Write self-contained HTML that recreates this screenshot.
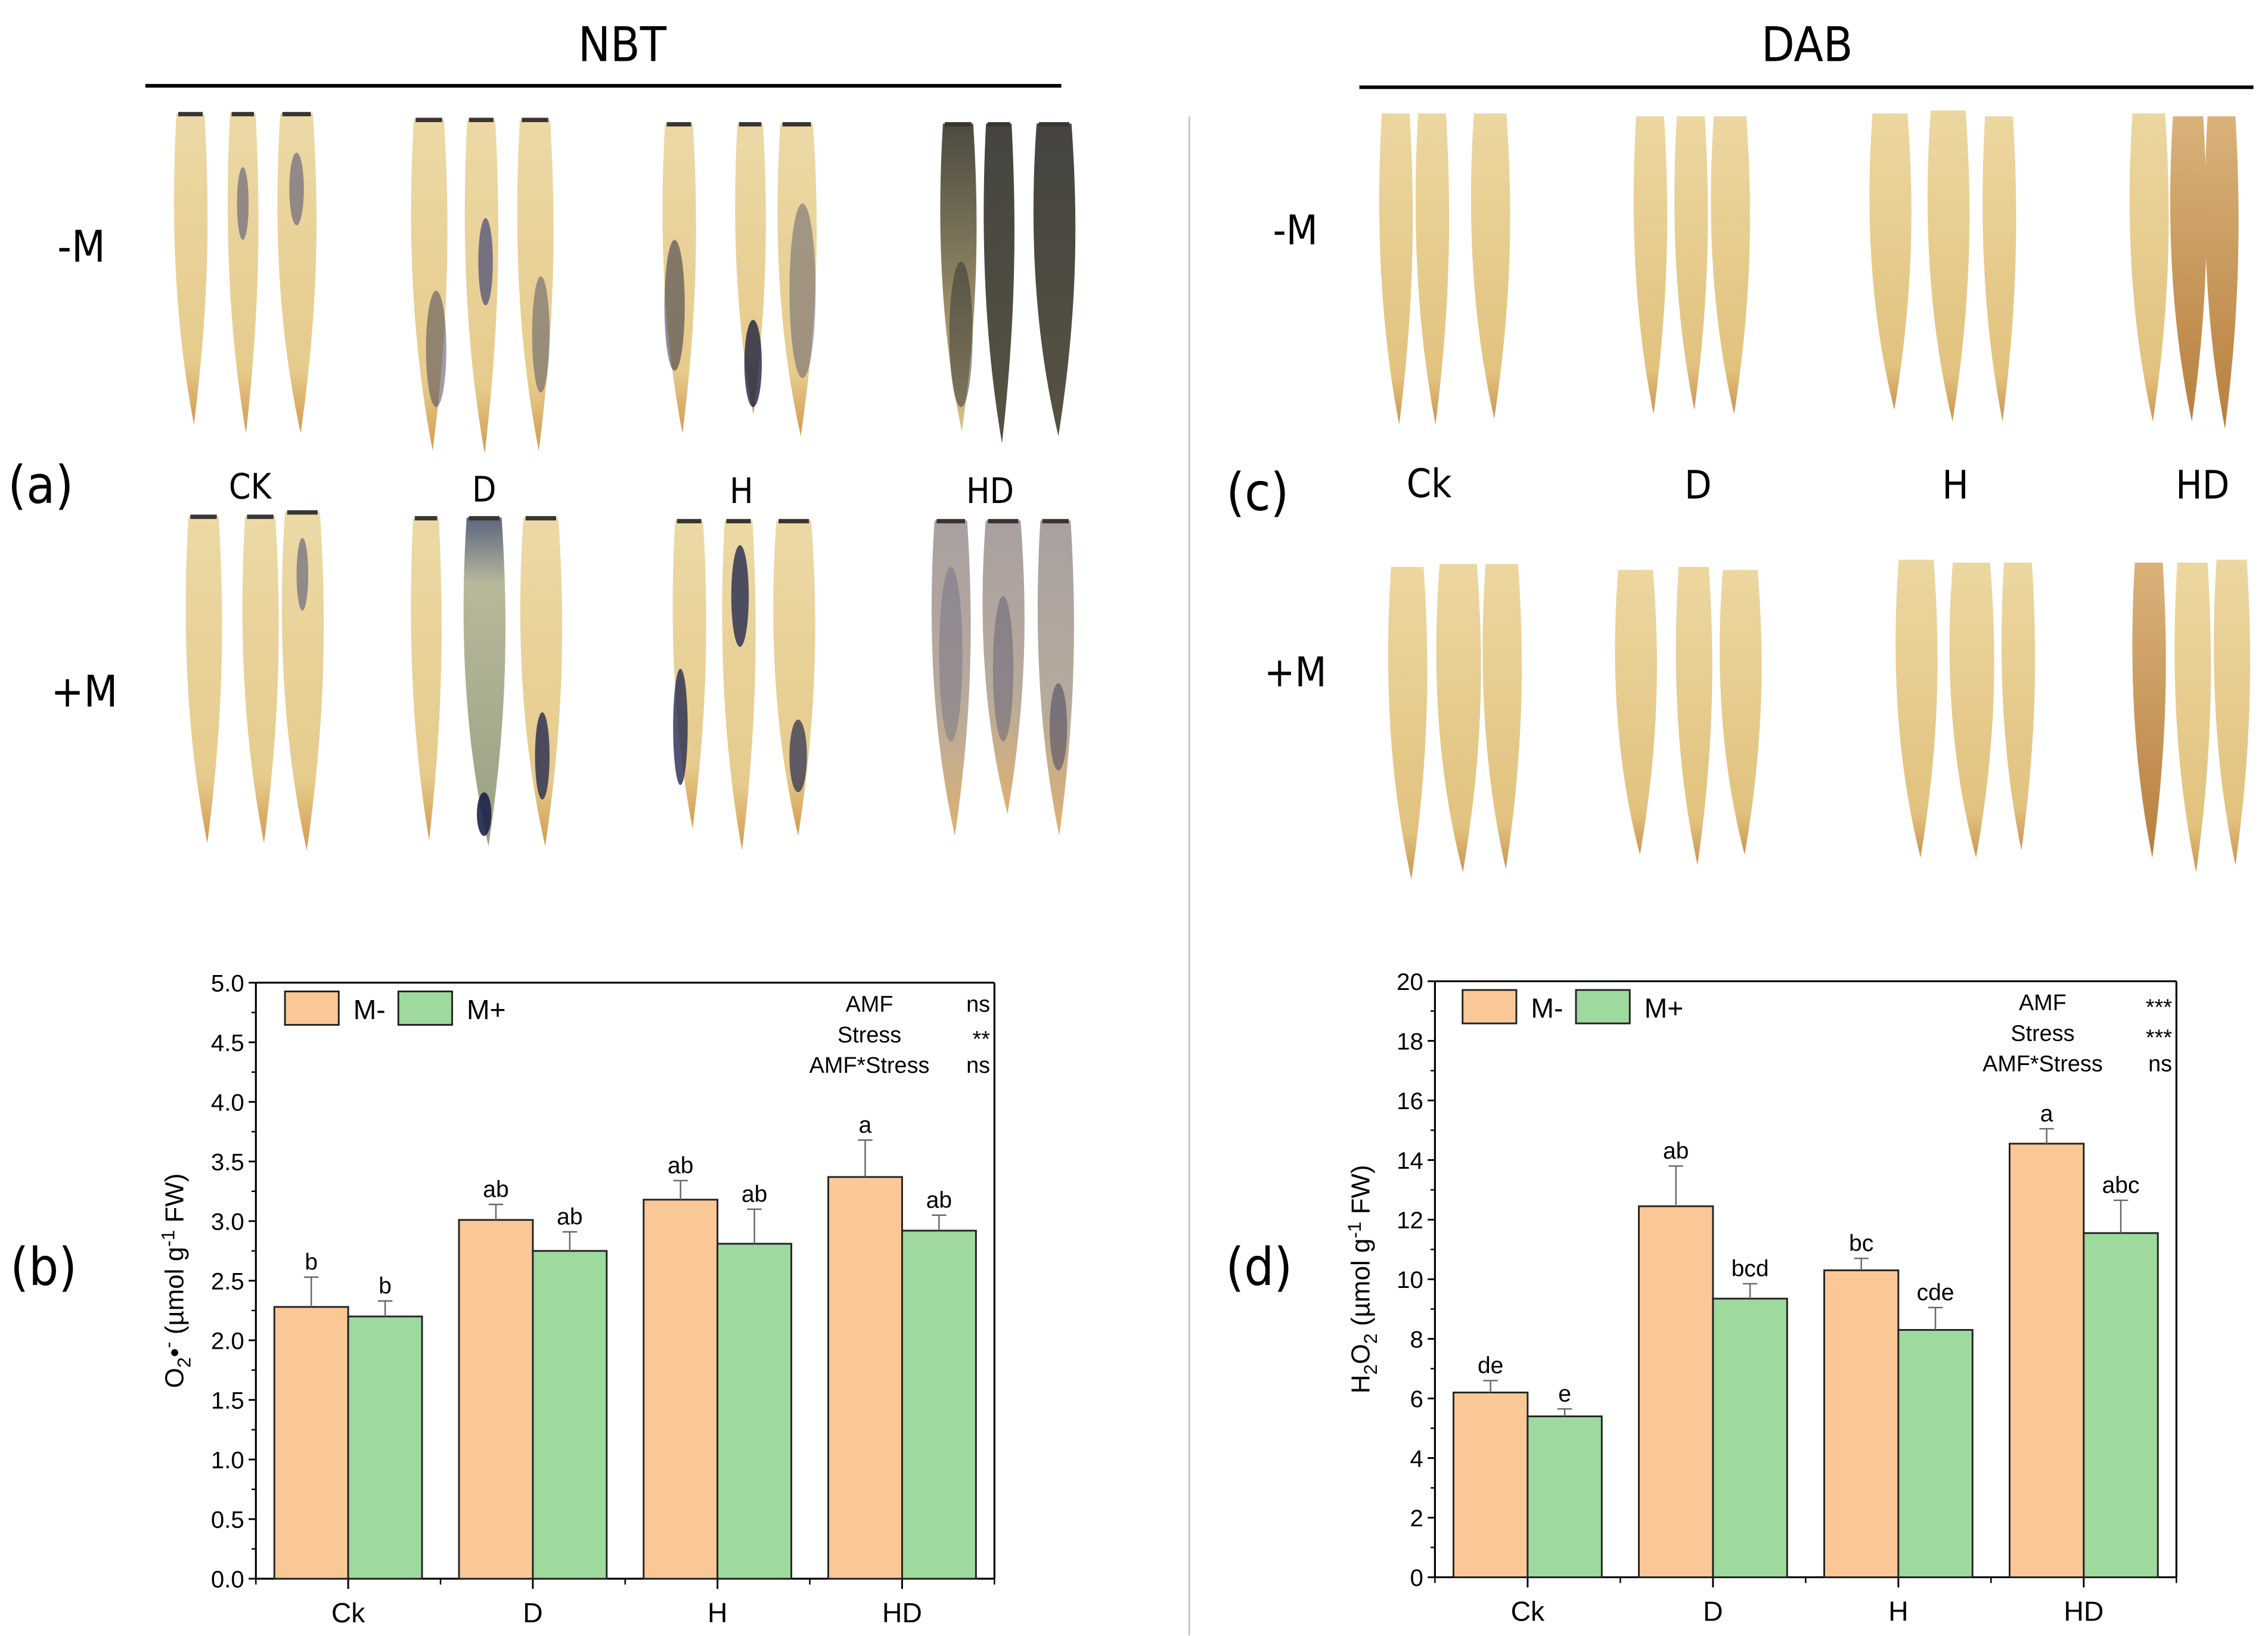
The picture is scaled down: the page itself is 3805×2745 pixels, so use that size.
<!DOCTYPE html>
<html><head><meta charset="utf-8"><style>
html,body{margin:0;padding:0;background:#fff;}
svg{display:block;font-family:"Liberation Sans",Arial,sans-serif;}
</style></head><body>
<svg id="fig" width="3805" height="2745" viewBox="0 0 1560 1125.4" xmlns="http://www.w3.org/2000/svg">
<defs>
<linearGradient id="gTan" x1="0" y1="0" x2="0" y2="1"><stop offset="0" stop-color="#ecd9a6"/><stop offset="0.8" stop-color="#e6cb8c"/><stop offset="1" stop-color="#d39a4f"/></linearGradient>
<linearGradient id="gDab" x1="0" y1="0" x2="0" y2="1"><stop offset="0" stop-color="#ecd7a0"/><stop offset="0.85" stop-color="#e2c27e"/><stop offset="1" stop-color="#c99550"/></linearGradient>
<linearGradient id="gDabDark" x1="0" y1="0" x2="0" y2="1"><stop offset="0" stop-color="#d9b27a"/><stop offset="1" stop-color="#b8803f"/></linearGradient>
<linearGradient id="gDark" x1="0" y1="0" x2="0" y2="1"><stop offset="0" stop-color="#45443f"/><stop offset="1" stop-color="#565243"/></linearGradient>
<linearGradient id="gMix" x1="0" y1="0" x2="0" y2="1"><stop offset="0" stop-color="#4c4a40"/><stop offset="0.5" stop-color="#8a8060"/><stop offset="1" stop-color="#d8c48a"/></linearGradient>
<linearGradient id="gBlueGreen" x1="0" y1="0" x2="0" y2="1"><stop offset="0" stop-color="#5c6680"/><stop offset="0.2" stop-color="#b8b89a"/><stop offset="1" stop-color="#9aa084"/></linearGradient>
<linearGradient id="gPurple" x1="0" y1="0" x2="0" y2="1"><stop offset="0" stop-color="#a9a0a0"/><stop offset="0.6" stop-color="#b8ab9c"/><stop offset="1" stop-color="#deb070"/></linearGradient>
</defs>
<g id="photos"></g>
<g font-family="'DejaVu Sans Condensed','Liberation Sans',sans-serif" fill="#000">
<text x="428" y="42" font-size="33" text-anchor="middle">NBT</text>
<line x1="100" y1="59" x2="730" y2="59" stroke="#000" stroke-width="2.5"/>
<text x="1243" y="42" font-size="33" text-anchor="middle">DAB</text>
<line x1="935" y1="60" x2="1550" y2="60" stroke="#000" stroke-width="2.5"/>
<line x1="818" y1="80" x2="818" y2="1125" stroke="#bbb" stroke-width="1"/>
<text x="56" y="180" font-size="30" text-anchor="middle">-M</text>
<text x="58" y="486" font-size="30" text-anchor="middle">+M</text>
<text x="28" y="346" font-size="36" text-anchor="middle">(a)</text>
<text x="172" y="343" font-size="24" text-anchor="middle">CK</text>
<text x="333" y="345" font-size="24" text-anchor="middle">D</text>
<text x="510" y="346" font-size="24" text-anchor="middle">H</text>
<text x="681" y="346" font-size="24" text-anchor="middle">HD</text>
<text x="891" y="168" font-size="28" text-anchor="middle">-M</text>
<text x="891" y="472" font-size="28" text-anchor="middle">+M</text>
<text x="865" y="351" font-size="36" text-anchor="middle">(c)</text>
<text x="983" y="342" font-size="27" text-anchor="middle">Ck</text>
<text x="1168" y="343" font-size="27" text-anchor="middle">D</text>
<text x="1345" y="343" font-size="27" text-anchor="middle">H</text>
<text x="1515" y="343" font-size="27" text-anchor="middle">HD</text>
<text x="30" y="884" font-size="36" text-anchor="middle">(b)</text>
<text x="866" y="884" font-size="36" text-anchor="middle">(d)</text>
</g>
<g id="chartB"></g>
<g id="chartD"></g>
</svg>
<script>
// ---- Chart data ----
const categories = ["Ck", "D", "H", "HD"];
const o2MinusVals = [2.28, 3.01, 3.18, 3.37];
const o2MinusErr = [0.25, 0.13, 0.16, 0.31];
const o2PlusVals = [2.20, 2.75, 2.81, 2.92];
const o2PlusErr = [0.13, 0.16, 0.29, 0.13];
const o2MinusLetters = ["b", "ab", "ab", "a"];
const o2PlusLetters = ["b", "ab", "ab", "ab"];
const o2Ticks = ["0.0","0.5","1.0","1.5","2.0","2.5","3.0","3.5","4.0","4.5","5.0"];
const o2Stats = ["ns", "**", "ns"];
const h2MinusVals = [6.2, 12.45, 10.3, 14.55];
const h2MinusErr = [0.4, 1.35, 0.4, 0.5];
const h2PlusVals = [5.4, 9.35, 8.3, 11.55];
const h2PlusErr = [0.25, 0.5, 0.75, 1.1];
const h2MinusLetters = ["de", "ab", "bc", "a"];
const h2PlusLetters = ["e", "bcd", "cde", "abc"];
const h2Ticks = ["0","2","4","6","8","10","12","14","16","18","20"];
const h2Stats = ["***", "***", "ns"];
const statNames = ["AMF", "Stress", "AMF*Stress"];

const NS = "http://www.w3.org/2000/svg";
function mk(tag, attrs, parent, txt){
  const e = document.createElementNS(NS, tag);
  for (const k in attrs) e.setAttribute(k, attrs[k]);
  if (txt !== undefined) e.textContent = txt;
  parent.appendChild(e);
  return e;
}

function drawChart(g, o){
  const yMax = parseFloat(o.ticks[o.ticks.length-1]);
  const yS = v => o.y0 - (v / yMax) * (o.y0 - o.y1);
  const step = (o.xR - o.xL) / categories.length;
  const xC = i => o.xL + step * (i + 0.5);
  const bw = step * 0.4;
  let el = mk("line", {x1:o.xL, y1:o.y0, x2:o.xL, y2:o.y1, stroke:"#000", "stroke-width":1.3}, g);
  
  
  el = mk("line", {x1:o.xL, y1:o.y0, x2:o.xR, y2:o.y0, stroke:"#000", "stroke-width":1.3}, g);
  
  
  el = mk("line", {x1:o.xL, y1:o.y1, x2:o.xR, y2:o.y1, stroke:"#000", "stroke-width":1.3}, g);
  
  
  el = mk("line", {x1:o.xR, y1:o.y0, x2:o.xR, y2:o.y1, stroke:"#000", "stroke-width":1.3}, g);
  
  
  o.ticks.forEach((t, i) => {
    const v = parseFloat(t);
    const y = yS(v);
    let tk = mk("line", {x1:o.xL-5, y1:y, x2:o.xL, y2:y, stroke:"#000", "stroke-width":1.2}, g);
    
    
    if (i < o.ticks.length - 1) {
      const ym = yS(v + yMax/(o.ticks.length-1)/2);
      let mt = mk("line", {x1:o.xL-3, y1:ym, x2:o.xL, y2:ym, stroke:"#000", "stroke-width":1}, g);
      
      
    }
    let lb = mk("text", {x:o.xL-8, y:y+6, "font-size":16.5, "text-anchor":"end"}, g, t);
    
    
  });
  for (let i = 0; i <= categories.length; i++) {
    const x = o.xL + step * i;
    let tk = mk("line", {x1:x, y1:o.y0, x2:x, y2:o.y0+4, stroke:"#000", "stroke-width":1}, g);
    
    
  }
  categories.forEach((c, i) => {
    let tk = mk("line", {x1:xC(i), y1:o.y0, x2:xC(i), y2:o.y0+7, stroke:"#000", "stroke-width":1.2}, g);
    
    
    let lb = mk("text", {x:xC(i), y:o.y0+30, "font-size":19, "text-anchor":"middle"}, g, c);
    
    
  });
  const series = [
    {vals:o.mv, err:o.me, let:o.ml, fill:"#f9c896", off:-bw, name:"bar-m-minus"},
    {vals:o.pv, err:o.pe, let:o.pl, fill:"#9ed99d", off:0, name:"bar-m-plus"}
  ];
  series.forEach(s => {
    s.vals.forEach((v, i) => {
      const x = xC(i) + s.off;
      const y = yS(v);
      let r = mk("rect", {x:x, y:y, width:bw, height:o.y0-y, fill:s.fill, stroke:"#222", "stroke-width":1.2}, g);
      
      
      const ye = yS(v + s.err[i]);
      const cx = x + bw/2;
      let e1 = mk("line", {x1:cx, y1:y, x2:cx, y2:ye, stroke:"#666", "stroke-width":1}, g);
      
      
      let e2 = mk("line", {x1:cx-5, y1:ye, x2:cx+5, y2:ye, stroke:"#666", "stroke-width":1}, g);
      
      
      let t = mk("text", {x:cx, y:ye-5, "font-size":16, "text-anchor":"middle"}, g, s.let[i]);
      
      
    });
  });
  const lx = o.xL + (o.legDx || 20), ly = o.y1 + 6;
  let l1 = mk("rect", {x:lx, y:ly, width:37, height:23, fill:"#f9c896", stroke:"#222", "stroke-width":1.2}, g);
  
  
  let l1t = mk("text", {x:lx+47, y:ly+19, "font-size":19}, g, "M-");
  
  
  let l2 = mk("rect", {x:lx+78, y:ly, width:37, height:23, fill:"#9ed99d", stroke:"#222", "stroke-width":1.2}, g);
  
  
  let l2t = mk("text", {x:lx+125, y:ly+19, "font-size":19}, g, "M+");
  
  
  statNames.forEach((n, i) => {
    const y = o.y1 + 20 + i * 21;
    let a = mk("text", {x:o.statX, y:y, "font-size":15.5, "text-anchor":"middle"}, g, n);
    
    
    let b = mk("text", {x:o.xR-3, y:y + (o.stats[i].indexOf('*')===0?3:0), "font-size":15.5, "text-anchor":"end"}, g, o.stats[i]);
    
    
  });
  const tcx = o.titleX, tcy = (o.y0 + o.y1)/2;
  let tt = mk("text", {x:tcx, y:tcy, "font-size":18, "text-anchor":"middle", transform:"rotate(-90 "+tcx+" "+tcy+")"}, g);
  
  
  o.titleParts.forEach(p => {
    mk("tspan", p.sub ? {"font-size":13, dy:p.dy} : (p.dy ? {dy:p.dy} : {}), tt, p.t);
  });
}

drawChart(document.getElementById("chartB"), {
  xL:176, xR:684, y0:1086, y1:676, ticks:o2Ticks,
  mv:o2MinusVals, me:o2MinusErr, pv:o2PlusVals, pe:o2PlusErr, ml:o2MinusLetters, pl:o2PlusLetters,
  stats:o2Stats, statX:598, titleX:126, legDx:20,
  titleParts:[{t:"O"},{t:"2",sub:true,dy:5},{t:"•",dy:-5},{t:"-",sub:true,dy:-6},{t:" (µmol g",dy:6},{t:"-1",sub:true,dy:-6},{t:" FW)",dy:6}]
});
drawChart(document.getElementById("chartD"), {
  xL:987, xR:1497, y0:1085, y1:675, ticks:h2Ticks,
  mv:h2MinusVals, me:h2MinusErr, pv:h2PlusVals, pe:h2PlusErr, ml:h2MinusLetters, pl:h2PlusLetters,
  stats:h2Stats, statX:1405, titleX:942, legDx:19,
  titleParts:[{t:"H"},{t:"2",sub:true,dy:5},{t:"O",dy:-5},{t:"2",sub:true,dy:5},{t:" (µmol g",dy:-5},{t:"-1",sub:true,dy:-6},{t:" FW)",dy:6}]
});

// ---- Leaf photos (decorative) ----
const P = document.getElementById("photos");
function leaf(cx, top, bot, w, fill, name){
  const h = bot - top;
  const d = "M"+(cx-w*0.4)+","+top+" L"+(cx+w*0.4)+","+top+
    " C"+(cx+w*0.55)+","+(top+h*0.3)+" "+(cx+w*0.55)+","+(top+h*0.6)+" "+(cx+w*0.1)+","+bot+
    " C"+(cx-w*0.5)+","+(top+h*0.65)+" "+(cx-w*0.55)+","+(top+h*0.3)+" "+(cx-w*0.4)+","+top+" Z";
  const p = mk("path", {d:d, fill:fill}, P);
  
  
  return p;
}
function spot(cx, cy, rx, ry, fill, op){
  const e = mk("ellipse", {cx:cx, cy:cy, rx:rx, ry:ry, fill:fill, opacity:op}, P);
  
  
}
function cap(cx, y, w){
  const r = mk("rect", {x:cx-w*0.35, y:y-1, width:w*0.7, height:3, fill:"#3a3530"}, P);
  
  
}
const nbtTop = [[131,78,292,24,"url(#gTan)"],[167,78,298,22,"url(#gTan)"],[204,78,298,28,"url(#gTan)"],
 [295,82,310,26,"url(#gTan)"],[331,82,312,24,"url(#gTan)"],[368,82,310,26,"url(#gTan)"],
 [467,85,298,24,"url(#gTan)"],[516,85,285,22,"url(#gTan)"],[548,85,300,28,"url(#gTan)"],
 [659,85,297,26,"url(#gMix)"],[687,85,305,22,"url(#gDark)"],[725,85,300,30,"url(#gDark)"]];
const nbtBot = [[140,355,580,26,"url(#gTan)"],[179,355,580,26,"url(#gTan)"],[208,352,585,30,"url(#gTan)"],
 [293,356,578,22,"url(#gTan)"],[333,356,582,30,"url(#gBlueGreen)"],[372,356,582,30,"url(#gTan)"],
 [474,358,570,24,"url(#gTan)"],[508,358,585,24,"url(#gTan)"],[546,358,575,30,"url(#gTan)"],
 [654,358,575,28,"url(#gPurple)"],[690,358,560,30,"url(#gPurple)"],[726,358,575,26,"url(#gPurple)"]];
const dabTop = [[960,78,292,24,"url(#gDab)"],[985,78,292,24,"url(#gDab)"],[1025,78,288,28,"url(#gDab)"],
 [1135,80,285,24,"url(#gDab)"],[1163,80,282,24,"url(#gDab)"],[1190,80,285,28,"url(#gDab)"],
 [1300,78,282,30,"url(#gDab)"],[1340,76,290,30,"url(#gDab)"],[1375,80,290,24,"url(#gDab)"],
 [1478,78,290,28,"url(#gDab)"],[1505,80,290,26,"url(#gDabDark)"],[1528,80,295,24,"url(#gDabDark)"]];
const dabBot = [[968,390,605,28,"url(#gDab)"],[1003,388,600,32,"url(#gDab)"],[1033,388,598,28,"url(#gDab)"],
 [1125,392,588,30,"url(#gDab)"],[1165,390,595,26,"url(#gDab)"],[1197,392,588,30,"url(#gDab)"],
 [1318,385,590,30,"url(#gDab)"],[1356,387,590,32,"url(#gDab)"],[1388,387,585,24,"url(#gDab)"],
 [1478,387,590,24,"url(#gDabDark)"],[1508,387,600,26,"url(#gDab)"],[1535,385,595,26,"url(#gDab)"]];
nbtTop.concat(nbtBot).forEach(l => { leaf(l[0], l[1], l[2], l[3], l[4], 'nbt-leaf'); cap(l[0], l[1], l[3]); });
dabTop.concat(dabBot).forEach(l => { leaf(l[0], l[1], l[2], l[3], l[4], 'dab-leaf'); });
[[300,240,7,40,"#3c3a50",0.5],[334,180,5,30,"#2a3070",0.6],[372,230,6,40,"#3a3e60",0.45],
 [464,210,7,45,"#2e2e40",0.55],[518,250,6,30,"#1e2240",0.8],[552,200,9,60,"#4a4c68",0.45],
 [661,230,8,50,"#2e2e30",0.5],[468,500,5,40,"#262a50",0.8],[509,410,6,35,"#262a50",0.8],
 [549,520,6,25,"#262a50",0.7],[373,520,5,30,"#262a50",0.8],[333,560,5,15,"#1e2248",0.9],
 [208,395,4,25,"#3a3e70",0.5],[167,140,4,25,"#3a3e70",0.5],[204,130,5,25,"#3a3e70",0.5],
 [654,450,8,60,"#5a5a78",0.35],[690,460,7,50,"#4a4a68",0.4],[728,500,6,30,"#3a3a58",0.5]]
 .forEach(s => spot(s[0], s[1], s[2], s[3], s[4], s[5]));
</script>
</body></html>
